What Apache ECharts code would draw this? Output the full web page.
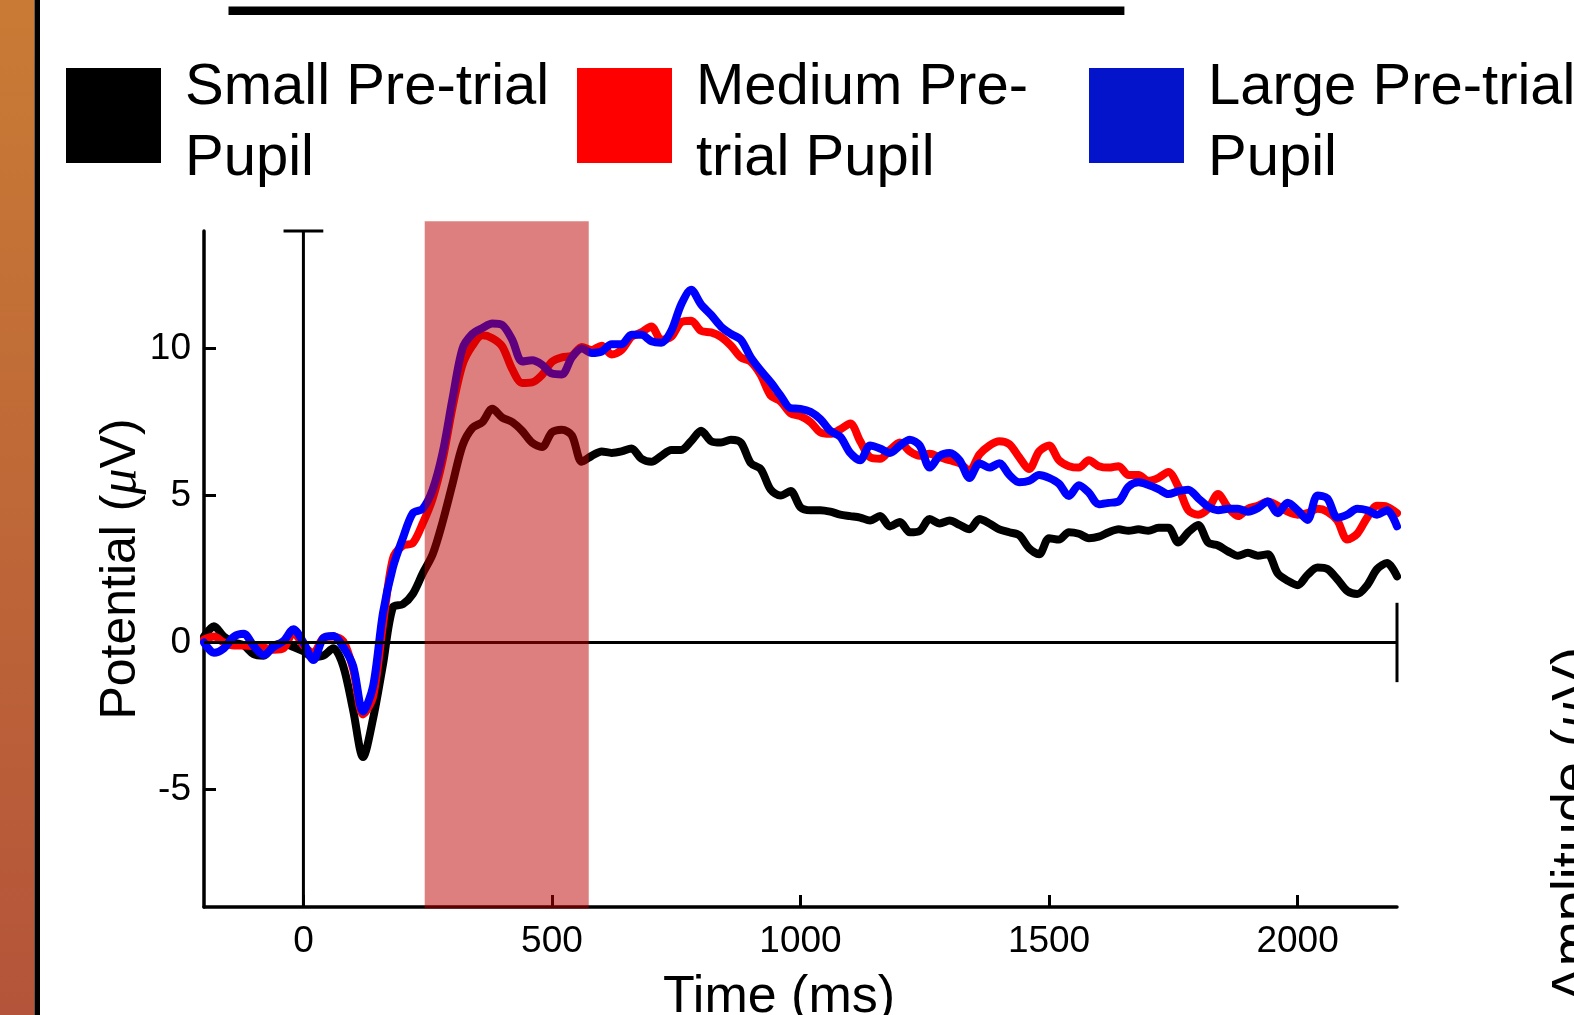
<!DOCTYPE html>
<html>
<head>
<meta charset="utf-8">
<script src="https://cdn.jsdelivr.net/npm/echarts@6/dist/echarts.min.js"></script>
<style>html,body{margin:0;padding:0;background:#fff;overflow:hidden}#c{width:1574px;height:1015px}</style>
</head>
<body>
<div id="c"></div>
<script>
// ---- data ----
const timeMs = [
  -200,-180,-160,-140,-120,-100,-80,-60,-40,-20,
  0,20,40,60,80,100,120,140,160,180,
  200,220,240,260,280,300,320,340,360,380,
  400,420,440,460,480,500,520,540,560,580,
  600,620,640,660,680,700,720,740,760,780,
  800,820,840,860,880,900,920,940,960,980,
  1000,1020,1040,1060,1080,1100,1120,1140,1160,1180,
  1200,1220,1240,1260,1280,1300,1320,1340,1360,1380,
  1400,1420,1440,1460,1480,1500,1520,1540,1560,1580,
  1600,1620,1640,1660,1680,1700,1720,1740,1760,1780,
  1800,1820,1840,1860,1880,1900,1920,1940,1960,1980,
  2000,2020,2040,2060,2080,2100,2120,2140,2160,2180,
  2200
];
const smallPupil = [
  0.2,0.55,0.2,0.0,-0.1,-0.4,-0.45,-0.1,-0.05,-0.15,
  -0.3,-0.5,-0.45,-0.2,-0.8,-2.3,-3.9,-2.6,-0.75,1.2,
  1.3,1.65,2.35,3.0,4.1,5.4,6.7,7.3,7.5,7.95,
  7.65,7.5,7.2,6.8,6.65,7.15,7.24,7.05,6.15,6.35,
  6.5,6.45,6.5,6.6,6.25,6.15,6.35,6.55,6.55,6.85,
  7.2,6.85,6.8,6.9,6.8,6.1,5.9,5.2,5.0,5.15,
  4.6,4.5,4.5,4.45,4.35,4.3,4.25,4.15,4.3,3.95,
  4.1,3.75,3.8,4.2,4.05,4.15,4.0,3.85,4.2,4.05,
  3.85,3.75,3.65,3.2,3.0,3.55,3.5,3.75,3.7,3.55,
  3.6,3.75,3.85,3.8,3.85,3.8,3.9,3.9,3.4,3.75,
  4.0,3.4,3.3,3.1,2.95,3.05,2.95,3.0,2.35,2.1,
  1.95,2.3,2.55,2.5,2.15,1.75,1.65,1.95,2.5,2.7,
  2.25
];
const mediumPupil = [
  0.1,0.2,0.0,-0.1,-0.1,-0.12,-0.17,-0.25,-0.2,0.35,
  -0.1,-0.35,0.15,0.2,0.05,-0.9,-2.45,-1.85,0.6,2.85,
  3.3,3.38,4.05,4.9,6.2,8.0,9.45,10.1,10.45,10.35,
  10.07,9.3,8.83,8.85,9.1,9.55,9.7,9.75,10.05,9.95,
  10.1,9.8,9.95,10.4,10.55,10.75,10.3,10.4,10.9,10.95,
  10.6,10.55,10.4,10.1,9.7,9.55,9.1,8.4,8.2,7.8,
  7.7,7.5,7.15,7.1,7.25,7.45,6.85,6.3,6.25,6.55,
  6.8,6.5,6.35,6.42,6.3,6.2,6.1,5.85,6.4,6.7,
  6.85,6.75,6.3,5.9,6.5,6.7,6.2,6.0,5.95,6.2,
  6.0,5.95,6.0,5.7,5.7,5.5,5.6,5.8,5.3,4.5,
  4.35,4.55,5.05,4.6,4.3,4.55,4.65,4.8,4.65,4.45,
  4.35,4.4,4.55,4.45,4.15,3.5,3.7,4.25,4.65,4.62,
  4.4
];
const largePupil = [
  0.0,-0.35,-0.2,0.2,0.3,-0.12,-0.43,-0.15,0.05,0.45,
  0.0,-0.6,0.15,0.22,-0.15,-0.8,-2.35,-1.5,1.0,2.55,
  3.55,4.4,4.55,5.2,6.45,8.3,10.0,10.5,10.7,10.85,
  10.8,10.3,9.56,9.6,9.45,9.15,9.12,9.7,10.0,9.85,
  9.9,10.15,10.15,10.47,10.47,10.25,10.2,10.6,11.5,12.0,
  11.5,11.15,10.75,10.5,10.3,9.7,9.25,8.85,8.4,7.97,
  7.95,7.85,7.6,7.2,7.0,6.45,6.2,6.7,6.6,6.45,
  6.7,6.9,6.7,5.95,6.35,6.45,6.2,5.6,6.1,5.95,
  6.1,5.7,5.45,5.5,5.7,5.6,5.4,4.98,5.35,5.1,
  4.7,4.75,4.8,5.3,5.45,5.36,5.22,5.05,5.15,5.2,
  4.91,4.62,4.5,4.55,4.55,4.45,4.57,4.8,4.4,4.75,
  4.5,4.17,5.0,4.9,4.25,4.35,4.55,4.5,4.35,4.5,
  3.95
];
const seriesNames = ['Small Pre-trial Pupil', 'Medium Pre-trial Pupil', 'Large Pre-trial Pupil'];
const legendLine1 = ['Small Pre-trial', 'Medium Pre-', 'Large Pre-trial'];
const legendLine2 = ['Pupil', 'trial Pupil', 'Pupil'];
const xTicks = [0, 500, 1000, 1500, 2000];
const yTicks = [-5, 0, 5, 10];
const xRange = [-200, 2200];
const yRange = [-9, 14];
const analysisWindow = [[244, 574]];       // shaded time window (ms)
const windowTop = 14.33;                    // shading reaches a bit above the axis
const refSegments = [                       // [x1, y1, x2, y2] in data units
  [-200, 0, 2200, 0],
  [2200, -1.35, 2200, 1.35],
  [0, -9, 0, 14],
  [-40, 14, 40, 14]
];

// ---- chart ----
const FONT = "'Liberation Sans', Arial, Helvetica, sans-serif";
const chart = echarts.init(document.getElementById('c'), null, {renderer: 'canvas', width: 1574, height: 1015});

function lineSeries(name, vals, lineColor, iconColor) {
  return {
    name: name, type: 'line', symbol: 'none', showSymbol: false, smooth: 0.3,
    data: timeMs.map((t, i) => [t, vals[i]]),
    lineStyle: {color: lineColor, width: 8, cap: 'round', join: 'round'},
    itemStyle: {color: iconColor},
    z: 2, silent: true
  };
}

function legendFor(i, left) {
  return {
    orient: 'horizontal', top: 59, left: left, padding: 0, icon: 'rect',
    itemWidth: 95, itemHeight: 95, itemGap: 0, itemTextGap: 25, selectedMode: false,
    data: [seriesNames[i]],
    formatter: () => '{a|' + legendLine1[i] + '}\n{b|' + legendLine2[i] + '}',
    textStyle: {
      fontSize: 58, color: '#000', fontFamily: FONT, padding: [0, 0, 0, 19],
      rich: {
        a: {fontSize: 58, lineHeight: 87, color: '#000', fontFamily: FONT},
        b: {fontSize: 58, lineHeight: 55, color: '#000', fontFamily: FONT}
      }
    }
  };
}

const option = {
  animation: false,
  backgroundColor: '#fff',
  grid: {left: 204, right: 177, top: 231, bottom: 108, containLabel: false, outerBoundsMode: 'none'},
  legend: [legendFor(0, 66), legendFor(1, 577), legendFor(2, 1089)],
  xAxis: {
    type: 'value', min: xRange[0], max: xRange[1],
    axisLine: {onZero: false, lineStyle: {color: '#000', width: 3.5}},
    axisTick: {inside: true, length: 12, lineStyle: {color: '#000', width: 3}, customValues: xTicks},
    axisLabel: {customValues: xTicks, fontSize: 37, color: '#000', fontFamily: FONT, margin: 16,
                formatter: v => String(v)},
    splitLine: {show: false},
    name: 'Time (ms)', nameLocation: 'middle', nameGap: 65,
    nameTextStyle: {fontSize: 52, color: '#000', fontFamily: FONT, padding: [0, 43, 0, 0]}
  },
  yAxis: {
    type: 'value', min: yRange[0], max: yRange[1],
    axisLine: {onZero: false, lineStyle: {color: '#000', width: 3.5}},
    axisTick: {inside: true, length: 12, lineStyle: {color: '#000', width: 3}, customValues: yTicks},
    axisLabel: {customValues: yTicks, fontSize: 37, color: '#000', fontFamily: FONT, margin: 13,
                formatter: v => String(v)},
    splitLine: {show: false},
    name: 'Potential ({mu|μ}V)', nameLocation: 'middle', nameGap: 57, nameMoveOverlap: false,
    nameTextStyle: {fontSize: 50, color: '#000', fontFamily: FONT,
      rich: {mu: {fontSize: 52, fontStyle: 'italic', fontFamily: "'Liberation Serif', 'DejaVu Serif', serif", color: '#000'}}}
  },
  series: [
    lineSeries(seriesNames[0], smallPupil, '#000000', '#000000'),
    lineSeries(seriesNames[1], mediumPupil, '#FF0000', '#FF0000'),
    lineSeries(seriesNames[2], largePupil, '#0000FF', '#0414CA'),
    {
      type: 'custom', name: 'refs', silent: true, z: 3,
      data: refSegments, encode: {x: [0, 2], y: [1, 3]},
      renderItem: function (params, api) {
        const a = api.coord([api.value(0), api.value(1)]);
        const b = api.coord([api.value(2), api.value(3)]);
        return {type: 'line', shape: {x1: a[0], y1: a[1], x2: b[0], y2: b[1]},
                style: {stroke: '#000', lineWidth: 3}};
      }
    },
    {
      type: 'custom', name: 'window', silent: true, z: 5,
      data: analysisWindow, encode: {x: [0, 1]},
      renderItem: function (params, api) {
        const p0 = api.coord([api.value(0), windowTop]);
        const p1 = api.coord([api.value(1), yRange[0]]);
        return {type: 'rect', shape: {x: p0[0], y: p0[1], width: p1[0] - p0[0], height: p1[1] - p0[1] + 1.5},
                style: {fill: 'rgba(190,0,0,0.5)'}};
      }
    }
  ],
  graphic: [
    {type: 'rect', x: 0, y: 0, shape: {width: 34.5, height: 1015}, silent: true,
     style: {fill: new echarts.graphic.LinearGradient(0, 0, 0, 1, [{offset: 0, color: '#C97B35'}, {offset: 1, color: '#B4543A'}])}},
    {type: 'rect', x: 34.5, y: 0, shape: {width: 5.5, height: 1015}, silent: true, style: {fill: '#000'}},
    {type: 'line', silent: true, shape: {x1: 228.5, y1: 10.8, x2: 1124.4, y2: 10.8}, style: {stroke: '#000', lineWidth: 8.5}},
    {type: 'text', x: 1546, y: 647, rotation: Math.PI / 2, silent: true,
     style: {text: 'Amplitude ({mu|μ}V)', fontSize: 54, fontFamily: FONT, fill: '#000', align: 'right', verticalAlign: 'top',
             rich: {mu: {fontSize: 56, fontStyle: 'italic', fontFamily: "'Liberation Serif', 'DejaVu Serif', serif", fill: '#000'}}}}
  ]
};
chart.setOption(option);
</script>
</body>
</html>
